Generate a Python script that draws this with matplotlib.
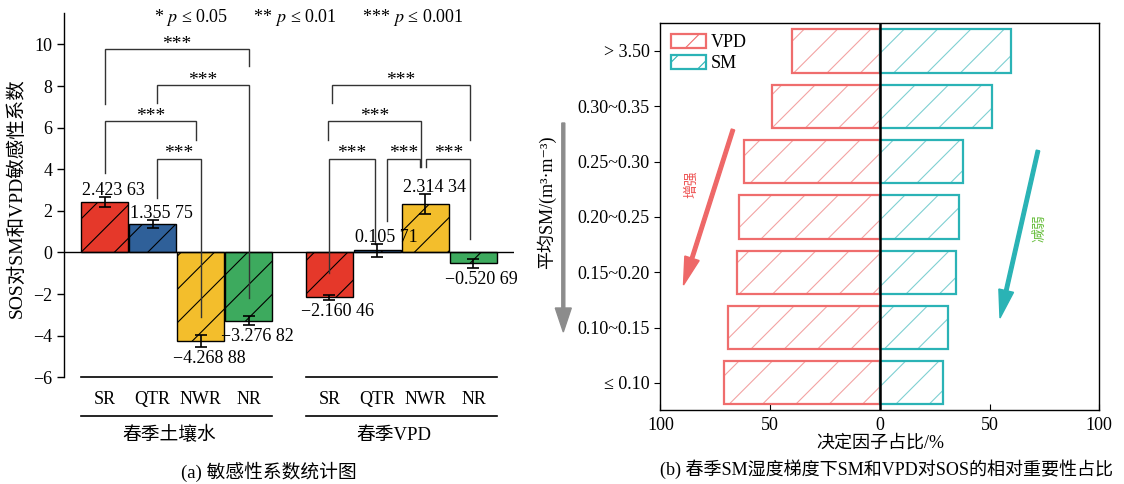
import numpy as np
import matplotlib
matplotlib.use("Agg")
import matplotlib.pyplot as plt
from matplotlib.patches import FancyArrow, Patch
from matplotlib.transforms import IdentityTransform
from matplotlib.ticker import FuncFormatter

plt.rcParams['font.family'] = ['Liberation Serif', 'DejaVu Serif', 'Noto Sans CJK SC']
plt.rcParams['mathtext.fontset'] = 'stix'
plt.rcParams['axes.unicode_minus'] = True
plt.rcParams['hatch.linewidth'] = 0.8

# ---- (a) 敏感性系数 ----
regions = ['SR', 'QTR', 'NWR', 'NR']
groups = ['春季土壤水', '春季VPD']
sens_sm = [2.42363, 1.35575, -4.26888, -3.27682]
sens_vpd = [-2.16046, 0.10571, 2.31434, -0.52069]
err_sm = [0.25, 0.20, 0.28, 0.20]
err_vpd = [0.12, 0.32, 0.48, 0.22]
value_labels = ['2.423 63', '1.355 75', '\u22124.268 88', '\u22123.276 82',
                '\u22122.160 46', '0.105 71', '2.314 34', '\u22120.520 69']
bar_colors = ['#e5382a', '#2f6099', '#f3be2c', '#3daa5e']

# 显著性括号: (柱a, 柱b, 高度, a端下沿, b端下沿, a偏移, b偏移)
sig_brackets = [
    (0, 3, 9.76, 7.16, 8.96, 0.0, 0.0),
    (1, 3, 8.04, 7.19, -2.2, 0.09, 0.0),
    (0, 2, 6.31, 3.82, 5.43, 0.0, -0.1),
    (1, 2, 4.51, 2.6, -3.08, 0.09, 0.0),
    (4, 7, 8.04, 7.19, 5.43, 0.06, -0.08),
    (4, 6, 6.31, 5.43, 4.1, -0.03, -0.1),
    (4, 5, 4.51, -0.97, 0.4, -0.01, -0.05),
    (5, 6, 4.51, 1.53, 4.1, 0.2, -0.12),
    (6, 7, 4.51, 4.1, 0.64, 0.02, -0.07),
]

# ---- (b) 相对重要性 ----
sm_bins = ['\u2264 0.10', '0.10~0.15', '0.15~0.20', '0.20~0.25',
           '0.25~0.30', '0.30~0.35', '> 3.50']
vpd_share = [71, 69, 65.3, 64, 62, 49, 40]
sm_share = [29, 31, 34.7, 36, 38, 51, 60]

W, H = 1124, 484
fig = plt.figure(figsize=(W / 100, H / 100), dpi=100)


def fx(px):
    return px / W


def fy(py):
    return 1 - py / H


# ================= (a) =================
ax = fig.add_axes([fx(64.3), fy(377.3), fx(514.3 - 64.3), (377.3 - 13.3) / H])
vals = np.array(sens_sm + sens_vpd)
errs = np.array(err_sm + err_vpd)
xpos = np.r_[np.arange(4), np.arange(4) + 4.68]
bw = 0.967
cols = bar_colors * 2

ax.bar(xpos, vals, width=bw, color=cols, edgecolor='black', linewidth=1.0,
       hatch='/', zorder=2)
ax.errorbar(xpos, vals, yerr=errs, fmt='none', ecolor='black', elinewidth=1.2,
            capsize=4, capthick=1.2, zorder=4)
ax.axhline(0, color='black', lw=1.0, zorder=3)

for x, v, e, lab in zip(xpos, vals, errs, value_labels):
    if v >= 0:
        ax.text(x - bw / 2 + 0.02, v + e - 0.1, lab, ha='left', va='bottom',
                fontsize=13, zorder=5)
    else:
        ax.text(x - bw / 2 - 0.1, v - e - 0.15, lab, ha='left', va='top',
                fontsize=13, zorder=5)

for a, b, h, ea, eb, oa, ob in sig_brackets:
    xa, xb = xpos[a] + oa, xpos[b] + ob
    ax.plot([xa, xa, xb, xb], [ea, h, h, eb], color='#333333', lw=1.0,
            zorder=3.5, solid_joinstyle='miter')
    ax.text((xa + xb) / 2, h + 0.02, '***', ha='center', va='baseline',
            fontsize=14)

ax.text(4.25, 11.29, '* $p$ \u2264 0.05      ** $p$ \u2264 0.01      *** $p$ \u2264 0.001',
        ha='center', va='center', fontsize=13)

ax.set_xlim(-0.84, 8.53)
ax.set_ylim(-6, 11.5)
ax.set_yticks(np.arange(-6, 11, 2))
ax.set_xticks([])
for s in ['top', 'right', 'bottom']:
    ax.spines[s].set_visible(False)
ax.spines['left'].set_linewidth(1.0)
ax.tick_params(axis='y', direction='out', length=5, width=1, labelsize=13)

# 分组横线与标签
for g in range(2):
    x0 = xpos[4 * g] - bw / 2
    x1 = xpos[4 * g + 3] + bw / 2
    for yl in (-6, -7.85):
        ax.plot([x0, x1], [yl, yl], color='black', lw=1.2, clip_on=False)
    for k in range(4):
        ax.text(xpos[4 * g + k], -7.06, regions[k], ha='center', va='center',
                fontsize=13, clip_on=False)
    ax.text((x0 + x1) / 2 - 0.15, -8.78, groups[g], ha='center', va='center',
            fontsize=13.5, clip_on=False)

fig.text(fx(17), fy(198), 'SOS对SM和VPD敏感性系数', rotation=90,
         ha='center', va='center', fontsize=14)
fig.text(fx(268.8), fy(472.3), '(a) 敏感性系数统计图', ha='center',
         va='center', fontsize=13.5)

# ================= (b) =================
bx = fig.add_axes([fx(660.4), fy(410), fx(1099.2 - 660.4), (410 - 23.3) / H])
yy = np.arange(len(sm_bins))
vpd_c, vpd_h = '#ef6d6d', '#f3a3a3'
sm_c, sm_h = '#2bb3b6', '#7fd0d2'

bx.barh(yy, -np.array(vpd_share), height=0.78, color='white',
        edgecolor=vpd_h, linewidth=0, hatch='/', zorder=2)
bx.barh(yy, -np.array(vpd_share), height=0.78, fill=False,
        edgecolor=vpd_c, linewidth=1.6, zorder=3)
bx.barh(yy, sm_share, height=0.78, color='white',
        edgecolor=sm_h, linewidth=0, hatch='/', zorder=2)
bx.barh(yy, sm_share, height=0.78, fill=False,
        edgecolor=sm_c, linewidth=1.6, zorder=3)
bx.axvline(0, color='black', lw=1.8, zorder=4)

bx.set_xlim(-100, 100)
bx.set_ylim(-0.49, 6.5)
bx.set_xticks([-100, -50, 0, 50, 100])
bx.xaxis.set_major_formatter(FuncFormatter(lambda v, _: f'{abs(v):.0f}'))
bx.set_yticks(yy)
bx.set_yticklabels(sm_bins)
bx.tick_params(axis='y', direction='out', length=4, labelsize=13)
bx.tick_params(axis='x', direction='in', length=4, labelsize=13, pad=5)
for s in bx.spines.values():
    s.set_linewidth(1.0)

handles = [Patch(facecolor='white', edgecolor=vpd_c, hatch='/', lw=1.6),
           Patch(facecolor='white', edgecolor=sm_c, hatch='/', lw=1.6)]
bx.legend(handles, ['VPD', 'SM'], loc='upper left', frameon=False,
          fontsize=13, handlelength=1.9, handleheight=0.8,
          handletextpad=0.3, labelspacing=0.2, borderaxespad=0.2,
          bbox_to_anchor=(0.0, 1.0))

fig.text(fx(880), fy(443.3), '决定因子占比/%', ha='center', va='center',
         fontsize=13)
fig.text(fx(886), fy(469.3), '(b) 春季SM湿度梯度下SM和VPD对SOS的相对重要性占比',
         ha='center', va='center', fontsize=13)
fig.text(fx(546), fy(202), '平均SM/(m\u00b3\u00b7m\u207b\u00b3)', rotation=90,
         ha='center', va='center', fontsize=13)

# 趋势箭头（像素坐标）
ident = IdentityTransform()
fig.add_artist(FancyArrow(563.3, H - 123, 0, -(332 - 123), width=3,
                          head_width=16, head_length=24,
                          length_includes_head=True, color='#8c8c8c',
                          transform=ident))
fig.add_artist(FancyArrow(733, H - 129.5, -49.5, -155.5, width=3.5,
                          head_width=15, head_length=28,
                          length_includes_head=True, color='#ee6868',
                          transform=ident))
fig.add_artist(FancyArrow(1038, H - 150.5, -38, -167.5, width=3.5,
                          head_width=15, head_length=28,
                          length_includes_head=True, color='#2ab3b5',
                          transform=ident))
fig.text(fx(692), fy(184), '增强', rotation=90, ha='center', va='center',
         fontsize=10, color='#ee5555')
fig.text(fx(1040), fy(228), '减弱', rotation=90, ha='center', va='center',
         fontsize=10, color='#6abf40')

fig.savefig('out.png', dpi=100)
